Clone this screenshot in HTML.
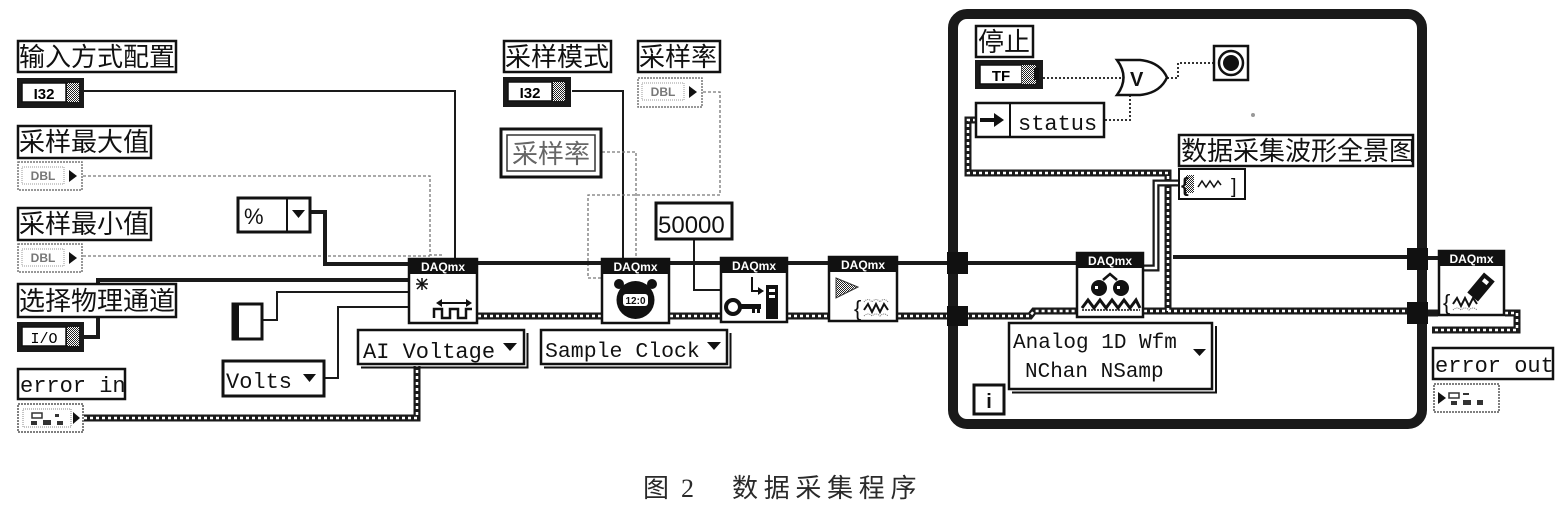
<!DOCTYPE html>
<html><head><meta charset="utf-8">
<style>
html,body{margin:0;padding:0;background:#fff;overflow:hidden;}
svg{display:block;}
.cjk{font-family:"Liberation Sans","Noto Sans CJK SC",sans-serif;}
.mono{font-family:"Liberation Mono",monospace;}
.sans{font-family:"Liberation Sans",sans-serif;}
</style></head><body>
<svg width="1567" height="509" viewBox="0 0 1567 509" xmlns="http://www.w3.org/2000/svg">
<defs>
<pattern id="dith" width="2" height="2" patternUnits="userSpaceOnUse"><rect width="2" height="2" fill="#fff"/><rect width="1" height="1" fill="#222"/><rect x="1" y="1" width="1" height="1" fill="#222"/></pattern>
</defs>

<!-- ===== thin numeric wires ===== -->
<g fill="none" stroke="#1a1a1a" stroke-width="2">
  <polyline points="84,91 455,91 455,258"/>
  <polyline points="572,91 623,91 623,258"/>
  <polyline points="694,240 694,290 720,290"/>
  <polyline points="325,378 338,378 338,307 408,307"/>
  <polyline points="263,320 277,320 277,292 408,292"/>
</g>
<g fill="none" stroke="#777" stroke-width="1.3" stroke-dasharray="3 2">
  <polyline points="83,176 430,176 430,255 443,255"/>
  <polyline points="83,256 430,256"/>
  <polyline points="703,92 720,92 720,195 588,195 588,278 601,278"/>
  <polyline points="602,152 636,152 636,258"/>
</g>
<g fill="none" stroke="#333" stroke-width="2" stroke-dasharray="2 2">
  <polyline points="1043,78 1122,78"/>
  <polyline points="1105,120 1130,120 1130,93"/>
  <polyline points="1167,78 1178,78 1178,63 1213,63"/>
</g>

<!-- ===== task (thick) wires ===== -->
<g fill="none" stroke="#1a1a1a" stroke-width="4">
  <polyline points="311,212 325,212 325,264 408,264"/>
  <polyline points="84,337 98,337 98,280 408,280"/>
  <polyline points="478,263 601,263"/>
  <polyline points="670,263 720,263"/>
  <polyline points="788,263 828,263"/>
  <polyline points="898,263 950,263"/>
  <polyline points="966,263 1076,263"/>
  <polyline points="1173,257 1410,257"/>
  <polyline points="1428,258 1438,258"/>
</g>

<!-- ===== error (striped) wires ===== -->
<g fill="none" stroke="#1a1a1a" stroke-width="7">
  <polyline points="84,418 417,418 417,366"/>
  <polyline points="478,316 601,316"/>
  <polyline points="670,316 720,316"/>
  <polyline points="788,316 828,316"/>
  <polyline points="898,316 950,316"/>
  <polyline points="966,316 1030,316 1034,311 1076,311"/>
  <polyline points="1144,311 1410,311"/>
  <polyline points="1168,311 1168,173 968,173 968,120 976,120"/>
  <polyline points="1428,313 1438,313"/>
  <polyline points="1505,313 1517,313 1517,330 1432,330"/>
</g>
<g fill="none" stroke="#fff" stroke-width="2.5" stroke-dasharray="3 3">
  <polyline points="84,418 417,418 417,366"/>
  <polyline points="478,316 601,316"/>
  <polyline points="670,316 720,316"/>
  <polyline points="788,316 828,316"/>
  <polyline points="898,316 950,316"/>
  <polyline points="966,316 1030,316 1034,311 1076,311"/>
  <polyline points="1144,311 1410,311"/>
  <polyline points="1168,311 1168,173 968,173 968,120 976,120"/>
  <polyline points="1505,313 1517,313 1517,330 1432,330"/>
</g>
<!-- waveform double wire -->
<polyline points="1143,268 1156,268 1156,183 1178,183" fill="none" stroke="#1a1a1a" stroke-width="7"/>
<polyline points="1143,268 1156,268 1156,183 1178,183" fill="none" stroke="#fff" stroke-width="2.5"/>

<!-- ===== While loop ===== -->
<rect x="953" y="14" width="469" height="410" rx="14" fill="none" stroke="#1a1a1a" stroke-width="10"/>
<g fill="#111">
  <rect x="947" y="252" width="21" height="22"/>
  <rect x="947" y="306" width="21" height="20"/>
  <rect x="1407" y="248" width="21" height="22"/>
  <rect x="1407" y="302" width="21" height="22"/>
</g>

<!-- ===== labels ===== -->
<g fill="#fff" stroke="#111" stroke-width="2.5">
  <rect x="18" y="41" width="158" height="31"/>
  <rect x="18" y="126" width="133" height="32"/>
  <rect x="18" y="208" width="133" height="32"/>
  <rect x="18" y="284" width="158" height="33"/>
  <rect x="18" y="369" width="107" height="30"/>
  <rect x="504" y="41" width="107" height="31"/>
  <rect x="638" y="41" width="82" height="31"/>
  <rect x="976" y="26" width="57" height="31"/>
  <rect x="1179" y="135" width="234" height="31"/>
  <rect x="1433" y="348" width="120" height="31"/>
</g>
<g class="cjk" font-size="26" fill="#111">
  <text x="19" y="66">输入方式配置</text>
  <text x="19" y="151">采样最大值</text>
  <text x="19" y="233">采样最小值</text>
  <text x="19" y="310">选择物理通道</text>
  <text x="505" y="66">采样模式</text>
  <text x="639" y="66">采样率</text>
  <text x="978" y="51">停止</text>
  <text x="1181" y="160">数据采集波形全景图</text>
</g>
<g class="mono" font-size="22" fill="#111">
  <text x="20" y="392">error in</text>
  <text x="1435" y="372">error out</text>
</g>

<!-- ===== dark terminals (I32, I/O, TF) ===== -->
<g>
  <rect x="17" y="78" width="67" height="30" fill="#1a1a1a"/>
  <rect x="22" y="83" width="44" height="19" fill="#fff" stroke="#111" stroke-width="1.5"/>
  <text x="44" y="99" font-size="15" font-weight="bold" text-anchor="middle" class="sans">I32</text>
  <rect x="67" y="83" width="12" height="19" fill="url(#dith)"/>

  <rect x="503" y="77" width="68" height="30" fill="#1a1a1a"/>
  <rect x="508" y="82" width="44" height="19" fill="#fff" stroke="#111" stroke-width="1.5"/>
  <text x="530" y="98" font-size="15" font-weight="bold" text-anchor="middle" class="sans">I32</text>
  <rect x="553" y="82" width="12" height="19" fill="url(#dith)"/>

  <rect x="17" y="322" width="67" height="30" fill="#1a1a1a"/>
  <rect x="22" y="327" width="44" height="19" fill="#fff" stroke="#111" stroke-width="1.5"/>
  <text x="44" y="343" font-size="15" text-anchor="middle" class="mono">I/O</text>
  <rect x="67" y="327" width="12" height="19" fill="url(#dith)"/>

  <rect x="975" y="60" width="68" height="29" fill="#1a1a1a"/>
  <rect x="980" y="65" width="42" height="19" fill="#fff" stroke="#111" stroke-width="1.5"/>
  <text x="1001" y="81" font-size="15" font-weight="bold" text-anchor="middle" class="sans">TF</text>
  <rect x="1022" y="65" width="14" height="19" fill="url(#dith)"/>
  <rect x="1034" y="68" width="5" height="12" fill="#111"/>
</g>

<!-- ===== light terminals (DBL, error) ===== -->
<g>
  <g transform="translate(17,161)">
    <rect x="1" y="1" width="64" height="28" fill="#fff" stroke="#777" stroke-width="1.5" stroke-dasharray="2 1"/>
    <rect x="5" y="6" width="42" height="17" fill="none" stroke="#999" stroke-width="1" stroke-dasharray="1 1"/>
    <text x="26" y="19" font-size="12" font-weight="bold" fill="#777" text-anchor="middle" class="sans">DBL</text>
    <polygon points="52,9 60,15 52,21" fill="#111"/>
  </g>
  <g transform="translate(17,243)">
    <rect x="1" y="1" width="64" height="28" fill="#fff" stroke="#777" stroke-width="1.5" stroke-dasharray="2 1"/>
    <rect x="5" y="6" width="42" height="17" fill="none" stroke="#999" stroke-width="1" stroke-dasharray="1 1"/>
    <text x="26" y="19" font-size="12" font-weight="bold" fill="#777" text-anchor="middle" class="sans">DBL</text>
    <polygon points="52,9 60,15 52,21" fill="#111"/>
  </g>
  <g transform="translate(637,77)">
    <rect x="1" y="1" width="64" height="29" fill="#fff" stroke="#777" stroke-width="1.5" stroke-dasharray="2 1"/>
    <rect x="5" y="6" width="42" height="17" fill="none" stroke="#999" stroke-width="1" stroke-dasharray="1 1"/>
    <text x="26" y="19" font-size="12" font-weight="bold" fill="#777" text-anchor="middle" class="sans">DBL</text>
    <polygon points="52,9 60,15 52,21" fill="#111"/>
  </g>
  <g transform="translate(17,403)">
    <rect x="1" y="1" width="65" height="28" fill="#fff" stroke="#555" stroke-width="1.5" stroke-dasharray="2 1"/>
    <rect x="6" y="6" width="48" height="18" fill="none" stroke="#888" stroke-width="1" stroke-dasharray="1 1"/>
    <rect x="15" y="10" width="10" height="5" fill="none" stroke="#333" stroke-width="1.5"/>
    <rect x="14" y="18" width="6" height="4" fill="#333"/>
    <rect x="26" y="17" width="8" height="5" fill="#333"/>
    <rect x="38" y="11" width="4" height="3" fill="#333"/>
    <rect x="40" y="18" width="6" height="4" fill="#333"/>
    <polygon points="56,9 63,15 56,21" fill="#111"/>
  </g>
  <g transform="translate(1433,383)">
    <rect x="1" y="1" width="65" height="28" fill="#fff" stroke="#555" stroke-width="1.5" stroke-dasharray="2 1"/>
    <polygon points="5,9 13,15 5,21" fill="#111"/>
    <rect x="16" y="10" width="10" height="5" fill="none" stroke="#333" stroke-width="1.5"/>
    <rect x="30" y="10" width="6" height="2" fill="#333"/>
    <rect x="18" y="18" width="6" height="4" fill="#333"/>
    <rect x="30" y="17" width="8" height="5" fill="#333"/>
    <rect x="44" y="17" width="6" height="5" fill="#333"/>
  </g>
</g>

<!-- ===== constants / rings ===== -->
<!-- % ring -->
<rect x="238" y="198" width="72" height="34" fill="#fff" stroke="#111" stroke-width="3"/>
<line x1="287" y1="198" x2="287" y2="232" stroke="#111" stroke-width="2"/>
<text x="244" y="224" font-size="22" class="sans" fill="#111">%</text>
<polygon points="292,210 305,210 298.5,218" fill="#111"/>
<!-- small rect constant -->
<rect x="233" y="304" width="29" height="35" fill="#fff" stroke="#111" stroke-width="3"/>
<rect x="232" y="303" width="7" height="37" fill="#111"/>
<!-- Volts ring -->
<rect x="223" y="361" width="101" height="35" fill="#fff" stroke="#111" stroke-width="3"/>
<text x="226" y="388" font-size="22" class="mono" fill="#111">Volts</text>
<polygon points="303,374 316,374 309.5,382" fill="#111"/>
<!-- AI Voltage ring -->
<rect x="358" y="330" width="166" height="34" fill="#fff" stroke="#111" stroke-width="2.5"/>
<polyline points="361,367.5 527.5,367.5 527.5,333" fill="none" stroke="#111" stroke-width="2"/>
<text x="363" y="358" font-size="22" class="mono" fill="#111">AI Voltage</text>
<polygon points="503,343 517,343 510,351" fill="#111"/>
<!-- Sample Clock ring -->
<rect x="541" y="330" width="186" height="34" fill="#fff" stroke="#111" stroke-width="2.5"/>
<polyline points="544,367.5 730.5,367.5 730.5,333" fill="none" stroke="#111" stroke-width="2"/>
<text x="545" y="357" font-size="21.5" class="mono" fill="#111">Sample Clock</text>
<polygon points="707,342 721,342 714,350" fill="#111"/>
<!-- 采样率 local variable -->
<rect x="501" y="129" width="100" height="48" fill="#fff" stroke="#111" stroke-width="3"/>
<rect x="507" y="135" width="88" height="36" fill="none" stroke="#333" stroke-width="1.5"/>
<text x="512" y="163" font-size="26" class="cjk" fill="#666">采样率</text>
<!-- 50000 -->
<rect x="656" y="203" width="76" height="36" fill="#fff" stroke="#111" stroke-width="3"/>
<text x="658" y="233" font-size="24" class="sans" fill="#111">50000</text>

<!-- ===== DAQmx nodes ===== -->
<!-- Create Channel -->
<g transform="translate(408,258)">
  <rect x="1" y="1" width="68" height="64" fill="#fff" stroke="#111" stroke-width="2.5"/>
  <rect x="0" y="0" width="70" height="16" fill="#111"/>
  <text x="35" y="13" font-size="12" fill="#fff" text-anchor="middle" class="sans" font-weight="bold">DAQmx</text>
  <g stroke="#111" stroke-width="1.5">
    <line x1="8" y1="26" x2="20" y2="26"/><line x1="14" y1="20" x2="14" y2="32"/><line x1="9" y1="21" x2="19" y2="31"/><line x1="19" y1="21" x2="9" y2="31"/>
  </g>
  <line x1="30" y1="45" x2="62" y2="45" stroke="#111" stroke-width="2"/>
  <polygon points="28,45 34,41 34,49" fill="#111"/><polygon points="64,45 58,41 58,49" fill="#111"/>
  <polyline points="26,60 26,51 34,51 34,60 42,60 42,51 50,51 50,60 58,60 58,51 64,51" fill="none" stroke="#111" stroke-width="2.5"/>
</g>
<!-- Timing -->
<g transform="translate(601,258)">
  <rect x="1" y="1" width="67" height="64" fill="#fff" stroke="#111" stroke-width="2.5"/>
  <rect x="0" y="0" width="69" height="16" fill="#111"/>
  <text x="34.5" y="13" font-size="12" fill="#fff" text-anchor="middle" class="sans" font-weight="bold">DAQmx</text>
  <circle cx="34.5" cy="42" r="19" fill="#111"/>
  <circle cx="18" cy="26" r="5" fill="#111"/><circle cx="51" cy="26" r="5" fill="#111"/>
  <rect x="22" y="36" width="25" height="12" rx="3" fill="#fff"/>
  <text x="34.5" y="46" font-size="10" font-weight="bold" text-anchor="middle" class="sans" fill="#111">12:0</text>
</g>
<!-- Property/Config -->
<g transform="translate(720,257)">
  <rect x="1" y="1" width="66" height="64" fill="#fff" stroke="#111" stroke-width="2.5"/>
  <rect x="0" y="0" width="68" height="16" fill="#111"/>
  <text x="34" y="13" font-size="12" fill="#fff" text-anchor="middle" class="sans" font-weight="bold">DAQmx</text>
  <rect x="46" y="28" width="12" height="34" fill="#111"/>
  <rect x="49" y="32" width="6" height="3" fill="#fff"/><rect x="49" y="38" width="6" height="3" fill="#fff"/>
  <polyline points="32,20 32,34 42,34" fill="none" stroke="#111" stroke-width="2"/>
  <polygon points="44,34 38,30 38,38" fill="#111"/>
  <circle cx="13" cy="50" r="7" fill="none" stroke="#111" stroke-width="4"/>
  <rect x="19" y="47" width="22" height="5" fill="#111"/>
  <rect x="32" y="52" width="3" height="4" fill="#111"/><rect x="37" y="52" width="3" height="4" fill="#111"/>
</g>
<!-- Start -->
<g transform="translate(828,256)">
  <rect x="1" y="1" width="68" height="64" fill="#fff" stroke="#111" stroke-width="2.5"/>
  <rect x="0" y="0" width="70" height="16" fill="#111"/>
  <text x="35" y="13" font-size="12" fill="#fff" text-anchor="middle" class="sans" font-weight="bold">DAQmx</text>
  <polygon points="8,22 30,31 8,42" fill="url(#dith)" stroke="#333" stroke-width="1"/>
  <text x="26" y="60" font-size="22" class="sans" fill="#111">{</text>
  <polyline points="36,54 40,48 44,56 48,48 52,56 56,48 60,54" fill="none" stroke="#111" stroke-width="2"/>
  <path d="M36,46 q4,-5 8,0 q4,-5 8,0 q4,-5 8,0" fill="none" stroke="#777" stroke-width="1" stroke-dasharray="1 1"/>
  <path d="M36,60 q4,-4 8,0 q4,-4 8,0 q4,-4 8,0" fill="none" stroke="#777" stroke-width="1" stroke-dasharray="1 1"/>
</g>
<!-- Read -->
<g transform="translate(1076,252)">
  <rect x="1" y="1" width="66" height="64" fill="#fff" stroke="#111" stroke-width="2.5"/>
  <rect x="0" y="0" width="68" height="16" fill="#111"/>
  <text x="34" y="13" font-size="12" fill="#fff" text-anchor="middle" class="sans" font-weight="bold">DAQmx</text>
  <circle cx="23" cy="36" r="8" fill="#111"/><circle cx="45" cy="36" r="8" fill="#111"/>
  <polyline points="27,28 34,22 41,28" fill="none" stroke="#111" stroke-width="2.5"/>
  <rect x="19" y="34" width="3" height="3" fill="#fff"/><rect x="41" y="34" width="3" height="3" fill="#fff"/>
  <polyline points="6,56 12,48 18,56 24,48 30,56 36,48 42,56 48,48 54,56 60,48 64,56" fill="none" stroke="#111" stroke-width="3"/>
  <line x1="6" y1="58" x2="64" y2="58" stroke="#111" stroke-width="1.5" stroke-dasharray="2 1"/>
</g>
<!-- Clear -->
<g transform="translate(1438,250)">
  <rect x="1" y="1" width="65" height="64" fill="#fff" stroke="#111" stroke-width="2.5"/>
  <rect x="0" y="0" width="67" height="16" fill="#111"/>
  <text x="33.5" y="13" font-size="12" fill="#fff" text-anchor="middle" class="sans" font-weight="bold">DAQmx</text>
  <rect x="36" y="24" width="14" height="26" fill="#111" transform="rotate(40 43 37)"/>
  <rect x="40" y="28" width="6" height="4" fill="#fff" transform="rotate(40 43 37)"/>
  <text x="5" y="60" font-size="22" class="sans" fill="#111">{</text>
  <polyline points="15,54 19,48 23,56 27,48 31,56 35,48 39,54" fill="none" stroke="#111" stroke-width="2"/>
  <path d="M15,60 q4,-4 8,0 q4,-4 8,0 q4,-4 8,0" fill="none" stroke="#777" stroke-width="1" stroke-dasharray="1 1"/>
</g>

<!-- ===== inside loop ===== -->
<!-- OR gate -->
<path d="M1117,60 Q1130,77.5 1117,95 L1140,95 Q1160,93 1167,77.5 Q1160,62 1140,60 Z" fill="#fff" stroke="#111" stroke-width="2.5"/>
<text x="1130" y="86" font-size="20" font-weight="bold" class="sans" fill="#111">V</text>
<!-- Stop terminal -->
<rect x="1214" y="46" width="34" height="34" fill="#fff" stroke="#111" stroke-width="2.5"/>
<circle cx="1231" cy="63" r="12" fill="#fff" stroke="#111" stroke-width="2.5"/>
<circle cx="1231" cy="63" r="8" fill="#111"/>
<!-- status unbundle -->
<rect x="976" y="103" width="128" height="34" fill="#fff" stroke="#111" stroke-width="2.5"/>
<line x1="1010" y1="103" x2="1010" y2="137" stroke="#111" stroke-width="2"/>
<line x1="980" y1="120" x2="996" y2="120" stroke="#111" stroke-width="4"/>
<polygon points="994,113 1004,120 994,127" fill="#111"/>
<text x="1018" y="130" font-size="22" class="mono" fill="#111">status</text>
<!-- graph terminal -->
<rect x="1179" y="169" width="66" height="30" fill="#fff" stroke="#111" stroke-width="2"/>
<rect x="1186" y="175" width="8" height="18" fill="url(#dith)"/>
<text x="1181" y="192" font-size="20" font-weight="bold" class="sans" fill="#111">{</text>
<path d="M1198,187 l4,-6 l4,6 l4,-6 l4,6 l4,-6 l3,4" fill="none" stroke="#111" stroke-width="1.5"/>
<text x="1231" y="193" font-size="20" class="sans" fill="#111">]</text>
<!-- Analog 1D Wfm ring -->
<rect x="1009" y="323" width="203" height="66" fill="#fff" stroke="#111" stroke-width="2.5"/>
<polyline points="1012,392.5 1216,392.5 1216,326" fill="none" stroke="#111" stroke-width="2"/>
<text x="1013" y="348" font-size="21" class="mono" fill="#111">Analog 1D Wfm</text>
<text x="1025" y="377" font-size="21" class="mono" fill="#111">NChan NSamp</text>
<polygon points="1193,349 1206,349 1199.5,356" fill="#111"/>
<!-- i terminal -->
<rect x="974" y="385" width="30" height="29" fill="#fff" stroke="#111" stroke-width="3"/>
<text x="989" y="408" font-size="20" font-weight="bold" text-anchor="middle" class="sans" fill="#111">i</text>
<!-- speck -->
<circle cx="1253" cy="115" r="2" fill="#999"/>

<!-- ===== caption ===== -->
<text x="643" y="497" font-size="26" class="cjk" fill="#2a2a2a">图</text>
<text x="681" y="497" font-size="26" font-family="Liberation Serif, serif" fill="#2a2a2a">2</text>
<text x="732" y="497" font-size="26" letter-spacing="5.7" class="cjk" fill="#2a2a2a">数据采集程序</text>
</svg>
</body></html>
